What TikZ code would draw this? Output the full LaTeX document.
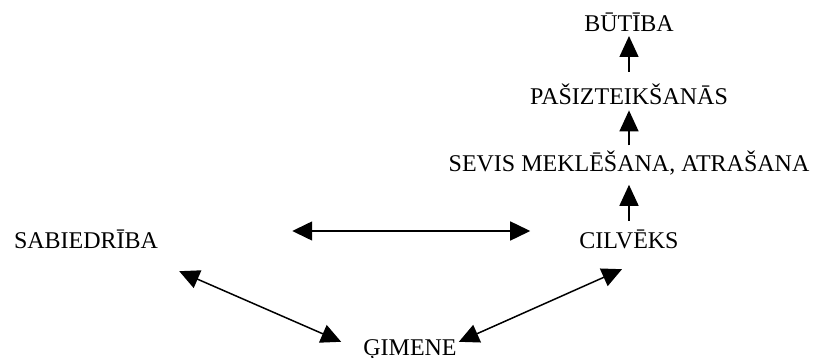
\documentclass[tikz,border=0pt]{standalone}
\usepackage{fontspec}
\setmainfont{Liberation Serif}
\usetikzlibrary{arrows.meta, positioning}

\begin{document}
\begin{tikzpicture}[x=1pt,y=-1pt,font=\fontsize{24}{28}\selectfont,
    lbl/.style={inner sep=0pt,text height=16pt,text depth=0pt},
    arr/.style={-{Triangle[length=21pt,width=19pt]},line width=1.5pt},
    darr/.style={{Triangle[length=20pt,width=19pt]}-{Triangle[length=20pt,width=19pt]},line width=1.5pt}]
    \useasboundingbox (0,0) rectangle (819,358);
    \node[lbl,anchor=base](cil) at (629,248){CILVĒKS};
    \node[lbl,above=60pt of cil](sev){SEVIS MEKLĒŠANA, ATRAŠANA};
    \node[lbl,above=51pt of sev](pas){PAŠIZTEIKŠANĀS};
    \node[lbl,above=56pt of pas](but){BŪTĪBA};
    \node[lbl,left=421pt of cil](sab){SABIEDRĪBA};
    \node[lbl,anchor=base](gim) at (410,355){ĢIMENE};
    \draw[arr,shorten <=11pt,shorten >=13pt](cil.north)--(sev.south);
    \draw[arr,shorten <=10pt,shorten >=6pt](sev.north)--(pas.south);
    \draw[arr,shorten <=16pt,shorten >=4pt](pas.north)--(but.south);
    \draw[darr,shorten <=134pt,shorten >=49pt]([yshift=9pt]sab.east)--([yshift=9pt]cil.west);
    \draw[darr]([xshift=21pt,yshift=-23pt]sab.south east)--([xshift=-22pt,yshift=-3pt]gim.north west);
    \draw[darr]([xshift=-7pt,yshift=-21pt]cil.south)--([xshift=2pt,yshift=-3pt]gim.north east);
  \end{tikzpicture}
\end{document}
